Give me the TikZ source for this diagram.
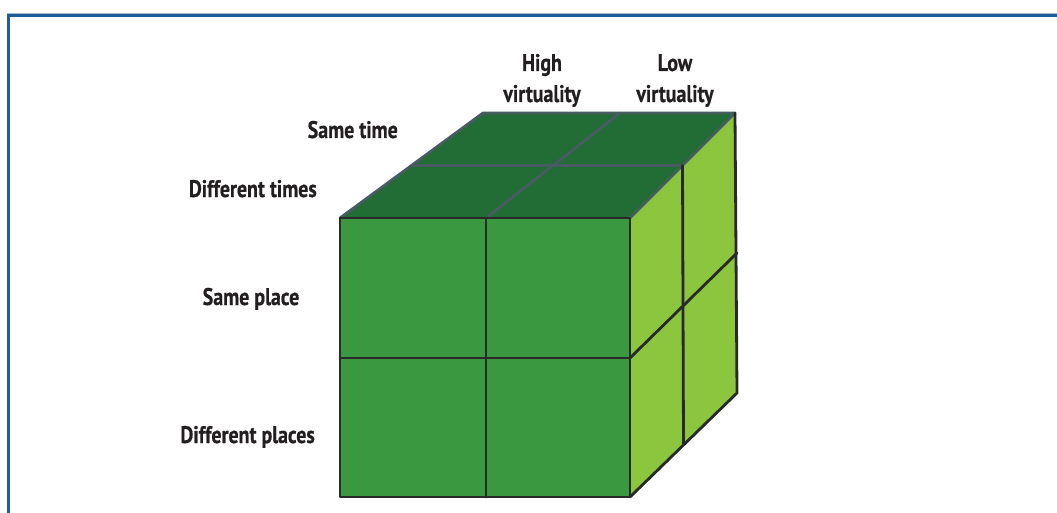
\documentclass[tikz,border=0pt]{standalone}
\usepackage{fontspec}
\newfontfamily\lblfont{PT Sans}[FakeStretch=0.83, FakeBold=0.6]

\definecolor{frameblue}{RGB}{30,94,152}
\definecolor{framelight}{RGB}{160,186,210}
\definecolor{topgreen}{RGB}{34,108,54}
\definecolor{frontgreen}{RGB}{58,153,64}
\definecolor{sidegreen}{RGB}{140,198,63}
\definecolor{edgedark}{RGB}{40,42,42}
\definecolor{edgetop}{RGB}{70,92,96}
\definecolor{labelgray}{RGB}{35,31,32}

\begin{document}
\begin{tikzpicture}[x=1pt,y=-1pt,
  lbl/.style={font=\lblfont\bfseries\fontsize{24}{28}\selectfont, text=labelgray, inner sep=0pt},
  edge/.style={draw=edgedark, line width=2.8pt, line join=round, line cap=round},
  topedge/.style={draw=edgetop, line width=2.8pt, line join=round, line cap=round}]
\useasboundingbox (0,0) rectangle (1057,513);

% frame: top and left rules
\draw[framelight, line width=1pt] (7,13.3) -- (1057,13.3);
\draw[frameblue, line width=3pt, line join=miter] (8.5,513) -- (8.5,15.5) -- (1057,15.5);

% cube corners
\coordinate (FTL) at (340,218);
\coordinate (FTR) at (630,218);
\coordinate (FBR) at (630,497);
\coordinate (FBL) at (340,497);
\coordinate (BTL) at (483,113);
\coordinate (BTR) at (735,113);
\coordinate (BBR) at (737,393);
% subdivision points
\coordinate (FTM) at (486,218);
\coordinate (FBM) at (486,497);
\coordinate (FML) at (340,358);
\coordinate (FMR) at (630,358);
\coordinate (BTM) at (620,113);
\coordinate (TML) at (411.5,165.5);
\coordinate (TMR) at (682.5,165.5);
\coordinate (RBM) at (683.5,445);
\coordinate (RMB) at (737,253);

% faces
\fill[topgreen] (FTL) -- (FTR) -- (BTR) -- (BTL) -- cycle;
\fill[frontgreen] (FTL) -- (FTR) -- (FBR) -- (FBL) -- cycle;
\fill[sidegreen] (FTR) -- (BTR) -- (BBR) -- (FBR) -- cycle;

% top face grid
\draw[topedge] (TML) -- (TMR);
\draw[topedge] (FTM) -- (BTM);
\draw[topedge] (FTL) -- (BTL) -- (BTR) -- (FTR);

% side face grid
\draw[edge] (TMR) -- (RBM);
\draw[edge] (FMR) -- (RMB);
\draw[edge] (BTR) -- (BBR) -- (FBR);

% front face grid
\draw[edge] (FTM) -- (FBM);
\draw[edge] (FML) -- (FMR);
\draw[edge] (FTL) -- (FTR) -- (FBR) -- (FBL) -- cycle;

% labels
\node[lbl, anchor=base] (high) at (542,71) {High};
\node[lbl, anchor=base] (virthigh) at (542,102) {virtuality};
\node[lbl, anchor=base] (low) at (675,71) {Low};
\node[lbl, anchor=base] (virtlow) at (675,102) {virtuality};
\node[lbl, anchor=base east] (sametime) at (398,138) {Same time};
\node[lbl, anchor=base east] (difftimes) at (317,197) {Different times};
\node[lbl, anchor=base] (sameplace) at (251,305) {Same place};
\node[lbl, anchor=base east] (diffplaces) at (315,443) {Different places};
\end{tikzpicture}
\end{document}
